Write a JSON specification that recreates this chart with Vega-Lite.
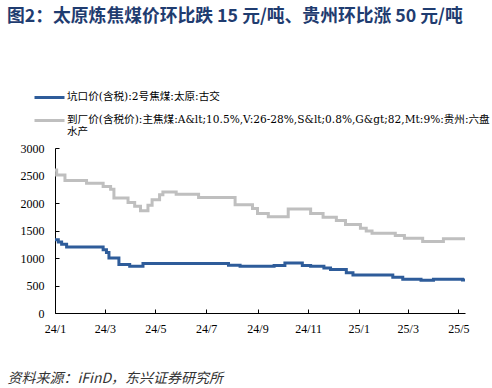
{
  "$schema": "https://vega.github.io/schema/vega-lite/v6.json",
  "width": 410,
  "height": 165,
  "autosize": "none",
  "padding": {"left": 55, "top": 148, "right": 27, "bottom": 75},
  "background": "white",
  "config": {"view": {"stroke": null}},
  "title": {
    "text": "图2：太原炼焦煤价环比跌 15 元/吨、贵州环比涨 50 元/吨",
    "anchor": "start",
    "frame": "group",
    "font": "Noto Sans CJK SC",
    "fontSize": 17.8,
    "fontWeight": "bold",
    "color": "#1F3C70",
    "baseline": "top",
    "dx": -48,
    "offset": 65
  },
  "data": {
    "values": [
      {"date": "2024/01/01", "series": "坑口价(含税):2号焦煤:太原:古交", "value": 1330},
      {"date": "2024/01/05", "series": "坑口价(含税):2号焦煤:太原:古交", "value": 1290},
      {"date": "2024/01/09", "series": "坑口价(含税):2号焦煤:太原:古交", "value": 1250},
      {"date": "2024/01/15", "series": "坑口价(含税):2号焦煤:太原:古交", "value": 1200},
      {"date": "2024/02/28", "series": "坑口价(含税):2号焦煤:太原:古交", "value": 1150},
      {"date": "2024/03/03", "series": "坑口价(含税):2号焦煤:太原:古交", "value": 1100},
      {"date": "2024/03/06", "series": "坑口价(含税):2号焦煤:太原:古交", "value": 1000},
      {"date": "2024/03/18", "series": "坑口价(含税):2号焦煤:太原:古交", "value": 880},
      {"date": "2024/03/31", "series": "坑口价(含税):2号焦煤:太原:古交", "value": 850},
      {"date": "2024/04/16", "series": "坑口价(含税):2号焦煤:太原:古交", "value": 900},
      {"date": "2024/07/28", "series": "坑口价(含税):2号焦煤:太原:古交", "value": 870},
      {"date": "2024/08/11", "series": "坑口价(含税):2号焦煤:太原:古交", "value": 850},
      {"date": "2024/09/21", "series": "坑口价(含税):2号焦煤:太原:古交", "value": 865},
      {"date": "2024/10/04", "series": "坑口价(含税):2号焦煤:太原:古交", "value": 910},
      {"date": "2024/10/25", "series": "坑口价(含税):2号焦煤:太原:古交", "value": 865},
      {"date": "2024/11/04", "series": "坑口价(含税):2号焦煤:太原:古交", "value": 850},
      {"date": "2024/11/20", "series": "坑口价(含税):2号焦煤:太原:古交", "value": 820},
      {"date": "2024/11/28", "series": "坑口价(含税):2号焦煤:太原:古交", "value": 790},
      {"date": "2024/12/17", "series": "坑口价(含税):2号焦煤:太原:古交", "value": 730},
      {"date": "2024/12/25", "series": "坑口价(含税):2号焦煤:太原:古交", "value": 690},
      {"date": "2025/02/11", "series": "坑口价(含税):2号焦煤:太原:古交", "value": 650},
      {"date": "2025/02/23", "series": "坑口价(含税):2号焦煤:太原:古交", "value": 615},
      {"date": "2025/03/17", "series": "坑口价(含税):2号焦煤:太原:古交", "value": 595},
      {"date": "2025/04/01", "series": "坑口价(含税):2号焦煤:太原:古交", "value": 615},
      {"date": "2025/05/06", "series": "坑口价(含税):2号焦煤:太原:古交", "value": 600},
      {"date": "2025/05/09", "series": "坑口价(含税):2号焦煤:太原:古交", "value": 600},
      {"date": "2024/01/01", "series": "到厂价(含税价):主焦煤:A&lt;10.5%,V:26-28%,S&lt;0.8%,G&gt;82,Mt:9%:贵州:六盘|水产", "value": 2600},
      {"date": "2024/01/03", "series": "到厂价(含税价):主焦煤:A&lt;10.5%,V:26-28%,S&lt;0.8%,G&gt;82,Mt:9%:贵州:六盘|水产", "value": 2510},
      {"date": "2024/01/13", "series": "到厂价(含税价):主焦煤:A&lt;10.5%,V:26-28%,S&lt;0.8%,G&gt;82,Mt:9%:贵州:六盘|水产", "value": 2410},
      {"date": "2024/02/08", "series": "到厂价(含税价):主焦煤:A&lt;10.5%,V:26-28%,S&lt;0.8%,G&gt;82,Mt:9%:贵州:六盘|水产", "value": 2360},
      {"date": "2024/02/28", "series": "到厂价(含税价):主焦煤:A&lt;10.5%,V:26-28%,S&lt;0.8%,G&gt;82,Mt:9%:贵州:六盘|水产", "value": 2300},
      {"date": "2024/03/08", "series": "到厂价(含税价):主焦煤:A&lt;10.5%,V:26-28%,S&lt;0.8%,G&gt;82,Mt:9%:贵州:六盘|水产", "value": 2250},
      {"date": "2024/03/12", "series": "到厂价(含税价):主焦煤:A&lt;10.5%,V:26-28%,S&lt;0.8%,G&gt;82,Mt:9%:贵州:六盘|水产", "value": 2090},
      {"date": "2024/03/29", "series": "到厂价(含税价):主焦煤:A&lt;10.5%,V:26-28%,S&lt;0.8%,G&gt;82,Mt:9%:贵州:六盘|水产", "value": 2010},
      {"date": "2024/04/06", "series": "到厂价(含税价):主焦煤:A&lt;10.5%,V:26-28%,S&lt;0.8%,G&gt;82,Mt:9%:贵州:六盘|水产", "value": 1940},
      {"date": "2024/04/13", "series": "到厂价(含税价):主焦煤:A&lt;10.5%,V:26-28%,S&lt;0.8%,G&gt;82,Mt:9%:贵州:六盘|水产", "value": 1860},
      {"date": "2024/04/22", "series": "到厂价(含税价):主焦煤:A&lt;10.5%,V:26-28%,S&lt;0.8%,G&gt;82,Mt:9%:贵州:六盘|水产", "value": 1960},
      {"date": "2024/04/27", "series": "到厂价(含税价):主焦煤:A&lt;10.5%,V:26-28%,S&lt;0.8%,G&gt;82,Mt:9%:贵州:六盘|水产", "value": 2060},
      {"date": "2024/05/06", "series": "到厂价(含税价):主焦煤:A&lt;10.5%,V:26-28%,S&lt;0.8%,G&gt;82,Mt:9%:贵州:六盘|水产", "value": 2150},
      {"date": "2024/05/10", "series": "到厂价(含税价):主焦煤:A&lt;10.5%,V:26-28%,S&lt;0.8%,G&gt;82,Mt:9%:贵州:六盘|水产", "value": 2200},
      {"date": "2024/05/26", "series": "到厂价(含税价):主焦煤:A&lt;10.5%,V:26-28%,S&lt;0.8%,G&gt;82,Mt:9%:贵州:六盘|水产", "value": 2160},
      {"date": "2024/06/22", "series": "到厂价(含税价):主焦煤:A&lt;10.5%,V:26-28%,S&lt;0.8%,G&gt;82,Mt:9%:贵州:六盘|水产", "value": 2100},
      {"date": "2024/08/05", "series": "到厂价(含税价):主焦煤:A&lt;10.5%,V:26-28%,S&lt;0.8%,G&gt;82,Mt:9%:贵州:六盘|水产", "value": 1970},
      {"date": "2024/08/26", "series": "到厂价(含税价):主焦煤:A&lt;10.5%,V:26-28%,S&lt;0.8%,G&gt;82,Mt:9%:贵州:六盘|水产", "value": 1900},
      {"date": "2024/09/01", "series": "到厂价(含税价):主焦煤:A&lt;10.5%,V:26-28%,S&lt;0.8%,G&gt;82,Mt:9%:贵州:六盘|水产", "value": 1810},
      {"date": "2024/09/14", "series": "到厂价(含税价):主焦煤:A&lt;10.5%,V:26-28%,S&lt;0.8%,G&gt;82,Mt:9%:贵州:六盘|水产", "value": 1750},
      {"date": "2024/10/08", "series": "到厂价(含税价):主焦煤:A&lt;10.5%,V:26-28%,S&lt;0.8%,G&gt;82,Mt:9%:贵州:六盘|水产", "value": 1890},
      {"date": "2024/11/04", "series": "到厂价(含税价):主焦煤:A&lt;10.5%,V:26-28%,S&lt;0.8%,G&gt;82,Mt:9%:贵州:六盘|水产", "value": 1810},
      {"date": "2024/11/19", "series": "到厂价(含税价):主焦煤:A&lt;10.5%,V:26-28%,S&lt;0.8%,G&gt;82,Mt:9%:贵州:六盘|水产", "value": 1740},
      {"date": "2024/12/05", "series": "到厂价(含税价):主焦煤:A&lt;10.5%,V:26-28%,S&lt;0.8%,G&gt;82,Mt:9%:贵州:六盘|水产", "value": 1680},
      {"date": "2024/12/16", "series": "到厂价(含税价):主焦煤:A&lt;10.5%,V:26-28%,S&lt;0.8%,G&gt;82,Mt:9%:贵州:六盘|水产", "value": 1610},
      {"date": "2025/01/03", "series": "到厂价(含税价):主焦煤:A&lt;10.5%,V:26-28%,S&lt;0.8%,G&gt;82,Mt:9%:贵州:六盘|水产", "value": 1540},
      {"date": "2025/01/10", "series": "到厂价(含税价):主焦煤:A&lt;10.5%,V:26-28%,S&lt;0.8%,G&gt;82,Mt:9%:贵州:六盘|水产", "value": 1490},
      {"date": "2025/01/17", "series": "到厂价(含税价):主焦煤:A&lt;10.5%,V:26-28%,S&lt;0.8%,G&gt;82,Mt:9%:贵州:六盘|水产", "value": 1450},
      {"date": "2025/02/14", "series": "到厂价(含税价):主焦煤:A&lt;10.5%,V:26-28%,S&lt;0.8%,G&gt;82,Mt:9%:贵州:六盘|水产", "value": 1410},
      {"date": "2025/02/25", "series": "到厂价(含税价):主焦煤:A&lt;10.5%,V:26-28%,S&lt;0.8%,G&gt;82,Mt:9%:贵州:六盘|水产", "value": 1360},
      {"date": "2025/03/19", "series": "到厂价(含税价):主焦煤:A&lt;10.5%,V:26-28%,S&lt;0.8%,G&gt;82,Mt:9%:贵州:六盘|水产", "value": 1300},
      {"date": "2025/04/13", "series": "到厂价(含税价):主焦煤:A&lt;10.5%,V:26-28%,S&lt;0.8%,G&gt;82,Mt:9%:贵州:六盘|水产", "value": 1350},
      {"date": "2025/05/09", "series": "到厂价(含税价):主焦煤:A&lt;10.5%,V:26-28%,S&lt;0.8%,G&gt;82,Mt:9%:贵州:六盘|水产", "value": 1350}
    ]
  },
  "mark": {"type": "line", "interpolate": "step-after", "strokeWidth": 3},
  "encoding": {
    "x": {
      "field": "date",
      "type": "temporal",
      "scale": {"domain": [{"year": 2024, "month": 1, "date": 1}, {"year": 2025, "month": 5, "date": 9}]},
      "axis": {
        "values": [
          {"year": 2024, "month": 1, "date": 1},
          {"year": 2024, "month": 3, "date": 1},
          {"year": 2024, "month": 5, "date": 1},
          {"year": 2024, "month": 7, "date": 1},
          {"year": 2024, "month": 9, "date": 1},
          {"year": 2024, "month": 11, "date": 1},
          {"year": 2025, "month": 1, "date": 1},
          {"year": 2025, "month": 3, "date": 1},
          {"year": 2025, "month": 5, "date": 1}
        ],
        "format": "%y/%-m",
        "labelFont": "Liberation Serif, serif",
        "labelFontSize": 12,
        "labelColor": "#000",
        "labelFlush": false,
        "labelAngle": 0,
        "labelPadding": 14,
        "tickSize": -4,
        "tickColor": "#000",
        "domainColor": "#000",
        "grid": false,
        "title": "资料来源：iFinD，东兴证券研究所",
        "titleFont": "Noto Sans CJK SC",
        "titleFontSize": 14,
        "titleFontWeight": "normal",
        "titleFontStyle": "italic",
        "titleColor": "#333",
        "titleAlign": "left",
        "titleAnchor": "start",
        "titleBaseline": "alphabetic",
        "titleX": -48,
        "titleY": 69
      }
    },
    "y": {
      "field": "value",
      "type": "quantitative",
      "scale": {"domain": [0, 3000]},
      "axis": {
        "values": [0, 500, 1000, 1500, 2000, 2500, 3000],
        "format": "d",
        "labelFont": "Liberation Serif, serif",
        "labelFontSize": 12,
        "labelColor": "#000",
        "labelPadding": 15,
        "tickSize": -4,
        "tickColor": "#000",
        "domainColor": "#000",
        "grid": false,
        "title": null
      }
    },
    "color": {
      "field": "series",
      "type": "nominal",
      "scale": {
        "domain": ["坑口价(含税):2号焦煤:太原:古交", "到厂价(含税价):主焦煤:A&lt;10.5%,V:26-28%,S&lt;0.8%,G&gt;82,Mt:9%:贵州:六盘|水产"],
        "range": ["#2E5C9A", "#BFBFBF"]
      },
      "legend": {
        "orient": "none",
        "legendX": -12,
        "legendY": -57,
        "title": null,
        "symbolType": "M-3,0H3",
        "symbolSize": 100,
        "symbolStrokeWidth": 3,
        "labelFont": "DejaVu Serif, Noto Sans CJK SC",
        "labelFontSize": 10.6,
        "labelColor": "#000",
        "labelLimit": 500,
        "labelOffset": 11,
        "labelBaseline": "top",
        "labelExpr": "split(datum.label, '|')",
        "labelLineHeight": 14.5,
        "rowPadding": 10,
        "encode": {"labels": {"update": {"dy": {"value": -6}}}}
      }
    }
  }
}
